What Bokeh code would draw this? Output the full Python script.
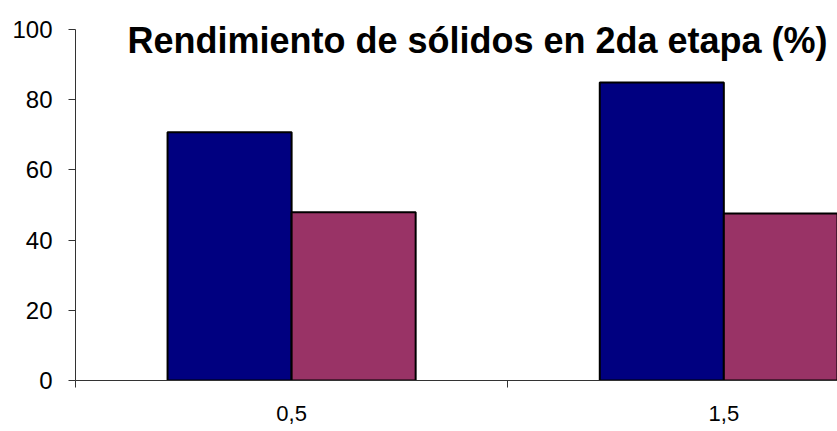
from bokeh.plotting import figure
from bokeh.models import FixedTicker, Label, ColumnDataSource
from bokeh.embed import file_html
from bokeh.resources import INLINE

categories = ["0,5", "1,5"]
serie_1 = [70.7, 84.9]
serie_2 = [47.9, 47.6]
y_ticks = [0, 20, 40, 60, 80, 100]
title_text = "Rendimiento de sólidos en 2da etapa (%)"

centers = [i + 0.5 for i in range(len(categories))]
bw = 0.287

p = figure(width=837, height=431, x_range=(0, 1.763), y_range=(0, 108.26),
           output_backend="svg", toolbar_location=None,
           min_border_left=75, min_border_right=0, min_border_top=0, min_border_bottom=51)
p.outline_line_color = None
p.xgrid.grid_line_color = None
p.ygrid.grid_line_color = None
p.background_fill_color = "white"
p.border_fill_color = "white"

src1 = ColumnDataSource(dict(x=[c - bw / 2 for c in centers], top=serie_1))
src2 = ColumnDataSource(dict(x=[c + bw / 2 for c in centers], top=serie_2))
p.vbar(x="x", top="top", bottom=0, width=bw, source=src1,
       fill_color="#000080", line_color="black", line_width=2)
p.vbar(x="x", top="top", bottom=0, width=bw, source=src2,
       fill_color="#993366", line_color="black", line_width=2)

# y axis
ya = p.yaxis[0]
ya.ticker = FixedTicker(ticks=y_ticks, minor_ticks=[])
ya.bounds = (0, 100)
ya.major_tick_in = 0
ya.major_tick_out = 7
ya.axis_line_color = "#333333"
ya.major_tick_line_color = "#333333"
ya.major_label_text_font = "Liberation Sans"
ya.major_label_text_font_size = "24px"
ya.major_label_text_color = "black"
ya.major_label_standoff = 16

# x axis
xa = p.xaxis[0]
xa.ticker = FixedTicker(ticks=centers, minor_ticks=[0, 1, 2])
xa.major_label_overrides = {c: lab for c, lab in zip(centers, categories)}
xa.major_tick_in = 0
xa.major_tick_out = 0
xa.minor_tick_in = 0
xa.minor_tick_out = 7
xa.minor_tick_line_color = "#333333"
xa.axis_line_color = "#333333"
xa.major_label_text_font = "Liberation Sans"
xa.major_label_text_font_size = "22px"
xa.major_label_text_color = "black"
xa.major_label_standoff = 18

title = Label(x=0.93, y=96.9, text=title_text, text_align="center",
              text_baseline="alphabetic", text_font="Liberation Sans",
              text_font_style="bold", text_font_size="36px", text_color="black")
p.add_layout(title)

open("out.html", "w").write(file_html(p, INLINE))
